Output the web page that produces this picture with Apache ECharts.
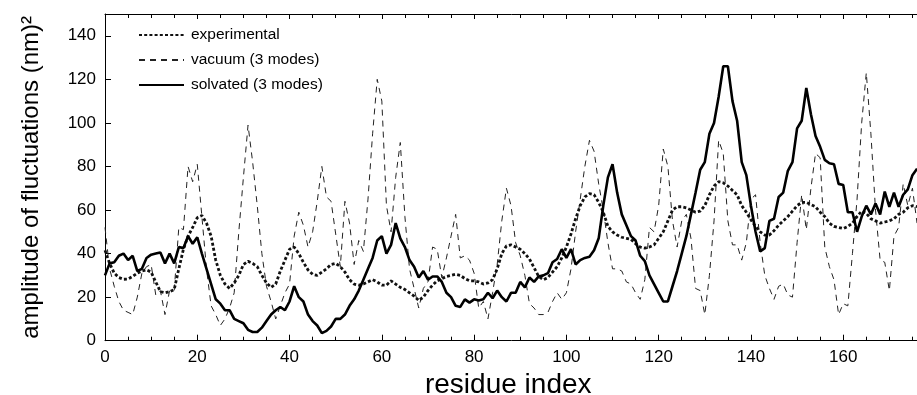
<!DOCTYPE html>
<html>
<head>
<meta charset="utf-8">
<script src="https://cdn.jsdelivr.net/npm/echarts@6/dist/echarts.min.js"></script>
<style>
html,body{margin:0;padding:0;background:#fff;}
#chart{width:917px;height:395px;}
</style>
</head>
<body>
<div id="chart"></div>
<script>
// residue index = position in each array (0..176)
const experimental = [
41.5,35.5,31,29,28.2,28.3,29.5,31,32,32.5,
31.5,27,22.5,22,22.5,23.5,33,42,48,52,
56.5,57.5,54,48,37,30,26,24,26.5,30,
35,36.5,35.5,34,30,26.5,24.5,26,32,37,
42,43,40,36,32.5,30.5,30,31.5,33,35,
35.5,34,31.5,28,26,25.5,26,27,28,27,
25.5,25.5,27.5,26,24.5,23.5,22,20.5,18.5,20,
23,25.5,27.5,28.5,29.5,30,30.5,30,28.5,27.5,
27.5,27,26,26.5,28,33,40,43.5,44,43,
42,40,37.5,33.5,29.5,28,29,31.5,34,38,
43,49,56,62,66,67.5,67,63.5,59,52.5,
50,48.5,47.5,47,46.5,44.5,43,42.5,43,44,
47,50,55,60,61.5,61.5,61,60,59,59.5,
62,67,71,73,72.5,71,69,67,62,59,
55.5,52.5,50,48.5,48.5,50.5,53,55,57,59.5,
62,63.5,63.5,62.5,61.5,59,57,54,52.5,52,
51.5,52.5,54,57,59.5,58.5,56,55,54,54.5,
55,56,58,59,61,62,61.5
];
const vacuum = [
52,33,25,18,14,13,12,20,31,34,
35,21,23,12,23,23,52,51,80,73,
81,57,33,16,12,7,10,15,22,50,
75,99,82,62,40,25,18,10,16,22,
26,48,59,53,43,50,64,80,66,64,
49,34,64,54,35,46,41,65,95,120,
110,62,50,75,91,57,33,24,15,24,
27,43,42,29,38,48,58,38,39,37,
31,15,18,10,22,35,55,70,62,45,
39,30,17,15,12,12,13,18,22,19,
22,33,50,65,80,92,87,72,60,45,
33,33,32,27,26,22,19,28,52,50,
62,88,80,55,43,55,58,47,24,23,
12,30,55,92,86,55,44,44,37,45,
65,67,45,30,24,19,25,26,21,20,
45,67,51,70,86,84,43,34,28,12,
17,16,40,65,100,123,95,60,37,36,
23,48,52,72,62,70,54
];
const solvated = [
30,35.5,36,39,40,37,39,32,33,38,
39.5,40,40.5,35.5,40,35.5,43,42.5,48,44.5,
47.5,40,33,26,19,17,14,14,10,9,
8,5,4,4,6,9,12,14,15.5,14,
18,25,20,18,12,9,7,3.5,4.5,6.5,
10,10,12,16,19,23,28,33,38,46,
48,40,44,54,47,43,37,34,29,32,
28,29.5,29.5,27,22,20,16,15.5,19,17.5,
19,18.5,19,22,19.5,23,20,18,22,22,
27,24.5,29,27,29.5,30,31,36,37.5,42,
38,42,35,37,38,38.5,41.5,47,62,75,
81,68,58,53,48,46,39,36.5,30,26,
22,18,18,25,32,40,48,58,68,78.5,
82,95,100,112,126,126,110,101,82,76,
62,50,41,42.5,55,56,66,68,78,82,
97.5,101,116,104,94,89,83,81.5,81,72,
71.5,59,59,50,57,62,58,63,58,68.5,
61.5,68,61.5,67,69.5,76,79
];
const seriesNames = ['experimental', 'vacuum (3 modes)', 'solvated (3 modes)'];
const xTicks = [0, 20, 40, 60, 80, 100, 120, 140, 160];
const yTicks = [0, 20, 40, 60, 80, 100, 120, 140];

const toPairs = arr => arr.map((v, i) => [i, v]);
const font = "'Liberation Sans', Arial, sans-serif";
const chart = echarts.init(document.getElementById('chart'), null, {renderer: 'canvas'});
chart.setOption({
  animation: false,
  backgroundColor: '#fff',
  grid: {left: 105, width: 830.5, top: 14, height: 326.7, containLabel: false, outerBoundsMode: 'none'},
  legend: {
    orient: 'vertical', left: 138, top: 27, padding: 0, itemGap: 9,
    itemWidth: 45, itemHeight: 14,
    itemStyle: {opacity: 0},
    textStyle: {fontFamily: font, fontSize: 15.5, color: '#000', padding: [0,0,0,2]},
    data: seriesNames
  },
  xAxis: [{
    type: 'value', min: 0, max: 180, interval: 20,
    position: 'bottom',
    name: 'residue index', nameLocation: 'middle', nameGap: 31,
    nameTextStyle: {fontFamily: font, fontSize: 28, color: '#000', padding: [0, 24, 0, 0]},
    axisLine: {show: true, lineStyle: {color: '#000', width: 1}},
    axisTick: {show: true, inside: true, length: 6, lineStyle: {color: '#000'}},
    minorTick: {show: true, splitNumber: 4, length: 4, lineStyle: {color: '#000'}},
    axisLabel: {fontFamily: font, fontSize: 17, color: '#000', margin: 8,
      formatter: v => xTicks.indexOf(v) >= 0 ? String(v) : ''},
    splitLine: {show: false}
  }, {
    type: 'value', min: 0, max: 180, interval: 20,
    position: 'top',
    axisLine: {show: true, lineStyle: {color: '#000', width: 1}},
    axisTick: {show: true, inside: true, length: 5, lineStyle: {color: '#000'}},
    minorTick: {show: true, splitNumber: 4, length: 4, lineStyle: {color: '#000'}},
    axisLabel: {show: false},
    splitLine: {show: false}
  }],
  yAxis: {
    type: 'value', min: 0, max: 150, interval: 20,
    name: 'amplitude of fluctuations (nm)²', nameLocation: 'middle', nameGap: 62,
    nameTextStyle: {fontFamily: font, fontSize: 24, color: '#000'},
    axisLine: {show: true, lineStyle: {color: '#000', width: 1}},
    axisTick: {show: true, inside: true, length: 6, lineStyle: {color: '#000'}},
    axisLabel: {fontFamily: font, fontSize: 17, color: '#000', margin: 9,
      formatter: v => yTicks.indexOf(v) >= 0 ? String(v) : ''},
    splitLine: {show: false}
  },
  series: [
    {name: seriesNames[0], type: 'line', data: toPairs(experimental), symbol: 'none', showSymbol: false,
     lineStyle: {color: '#111', width: 2.8, type: [3, 2.2]}, itemStyle: {color: '#111'}, z: 3},
    {name: seriesNames[1], type: 'line', data: toPairs(vacuum), symbol: 'none', showSymbol: false,
     lineStyle: {color: '#222', width: 1, type: [6, 5]}, itemStyle: {color: '#222'}, z: 2},
    {name: seriesNames[2], type: 'line', data: toPairs(solvated), symbol: 'none', showSymbol: false,
     lineStyle: {color: '#000', width: 2.6, type: 'solid'}, itemStyle: {color: '#000'}, z: 4}
  ]
});
</script>
</body>
</html>
